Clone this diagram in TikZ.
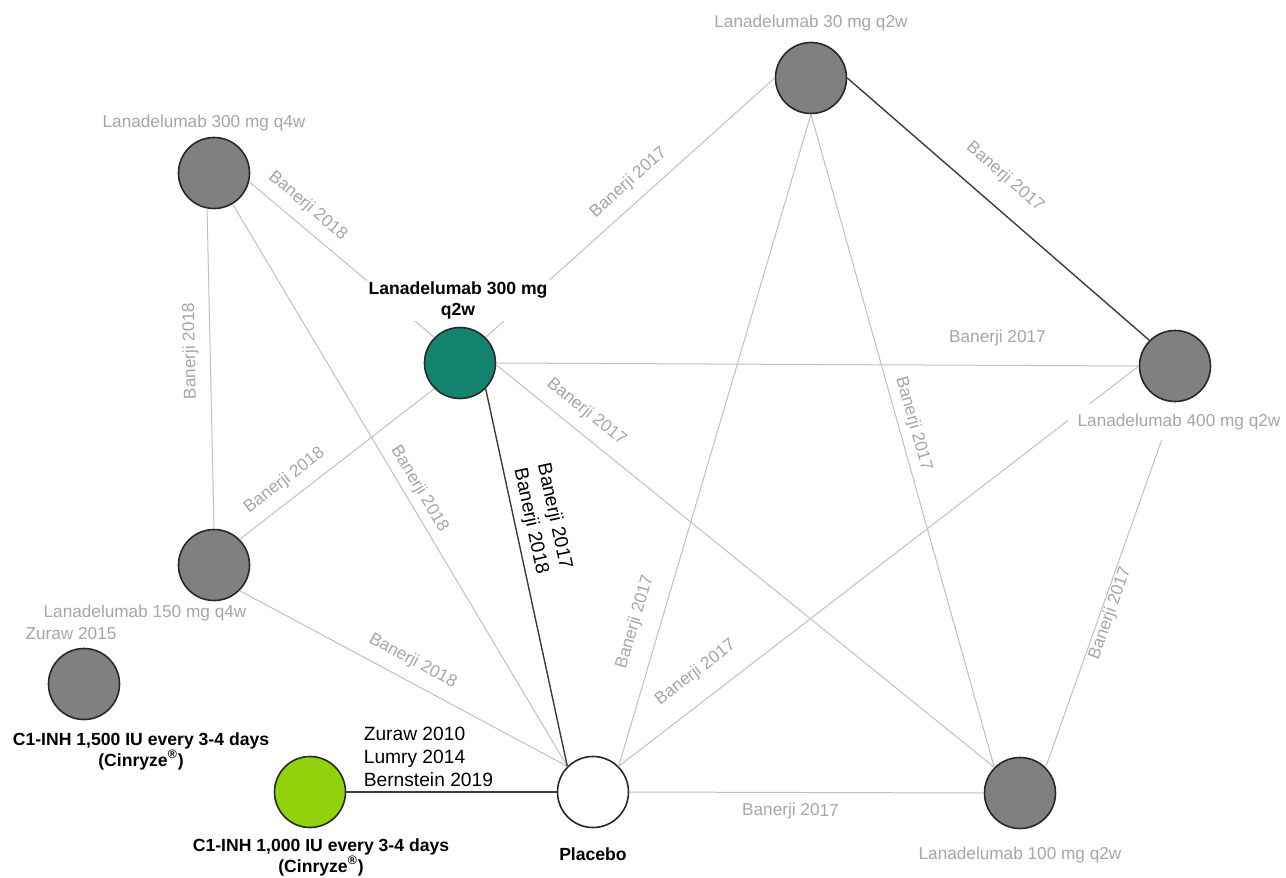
\documentclass[tikz,border=0pt]{standalone}
\usepackage{fontspec}
\setmainfont{Liberation Sans}
\usetikzlibrary{positioning}
\definecolor{trtgray}{RGB}{128,128,128}
\definecolor{rimgray}{RGB}{40,40,40}
\definecolor{trtteal}{RGB}{19,131,112}
\definecolor{trtlime}{RGB}{146,210,12}
\definecolor{pairgray}{RGB}{192,192,192}
\definecolor{pairdark}{RGB}{60,60,60}
\definecolor{studygray}{RGB}{165,165,172}
\tikzset{
  x=0.5pt, y=-0.5pt,
  trt/.style={circle, draw=rimgray, line width=0.8pt, minimum size=35.5pt, inner sep=0pt, fill=trtgray},
  pair/.style={draw=pairgray, line width=0.5pt},
  pairk/.style={draw=pairdark, line width=0.7pt},
  study/.style={sloped, inner sep=0pt, text=studygray, font=\fontsize{8.6}{10}\selectfont},
  studyk/.style={sloped, inner sep=0pt, text=black, align=center, font=\fontsize{9.6}{12}\selectfont},
  trials/.style={inner sep=0pt, text=black, align=left, font=\fontsize{9.6}{11.5}\selectfont},
  tname/.style={inner sep=0pt, text=studygray, font=\fontsize{8.6}{10}\selectfont},
  tbold/.style={inner sep=1pt, text=black, align=center, font=\fontsize{8.8}{10.5}\selectfont\bfseries}
  }

\begin{document}
\begin{tikzpicture}
    \useasboundingbox (0,0) rectangle (1286,878);

    \node [trt] at (811,78) (l30q2w) {};
    \node [trt] at (214,173) (l300q4w) {};
    \node [trt, fill=trtteal] at (460,363) (l300q2w) {};
    \node [trt] at (1175,366) (l400q2w) {};
    \node [trt] at (214,565) (l150q4w) {};
    \node [trt] at (84,684) (c1500) {};
    \node [trt, fill=trtlime] at (310,792) (c1000) {};
    \node [trt, fill=white] at (593,792) (pbo) {};
    \node [trt] at (1020,793) (l100q2w) {};

    \draw (l300q4w.-14) edge[pair] node[study, pos=.25, above=5.3pt] {Banerji 2018} (l300q2w.135);
    \draw (l150q4w.90) edge[pair] node[study, allow upside down, pos=.556, above=5.6pt] {Banerji 2018} (l300q4w.-101);
    \draw (l300q4w.-59) edge[pair] node[study, pos=.52, above=3.1pt] {Banerji 2018} (pbo.135);
    \draw (l150q4w.45) edge[pair] node[study, pos=.29, above=5.25pt] {Banerji 2018} (l300q2w.-135);
    \draw (l150q4w.-45) edge[pair] node[study, pos=.5, above=5.6pt] {Banerji 2018} (pbo.135);
    \draw (l300q2w.-45) edge[pairk] node[studyk, pos=.36, above=3.1pt] {Banerji 2017\\Banerji 2018} (pbo.135);
    \draw (l300q2w.45) edge[pair] node[study, pos=.54, above=5.65pt] {Banerji 2017} (l30q2w.180);
    \draw (l300q2w.0) edge[pair] node[study, pos=.78, above=9.4pt] {Banerji 2017} (l400q2w.180);
    \draw (l300q2w.-3) edge[pair] node[study, pos=.156, above=5.75pt] {Banerji 2017} (l100q2w.135);
    \draw (l30q2w.0) edge[pairk] node[study, pos=.46, above=10pt] {Banerji 2017} (l400q2w.135);
    \draw (l30q2w.-90) edge[pair] node[study, pos=.79, above=8.25pt] {Banerji 2017} (pbo.45);
    \draw (l30q2w.-90) edge[pair] node[study, pos=.48, above=3.25pt] {Banerji 2017} (l100q2w.135);
    \draw (l400q2w.180) edge[pair] node[study, pos=.82, above=9.4pt] {Banerji 2017} (pbo.45);
    \draw (l400q2w.-90) edge[pair] node[study, pos=.57, below=0.5pt] {Banerji 2017} (l100q2w.45);
    \draw (pbo.0) edge[pair] node[study, pos=.455, below=5.25pt] {Banerji 2017} (l100q2w.180);
    \draw (c1000.0) edge[pairk] node[trials, pos=.08, anchor=south west, yshift=2.5pt] {Zuraw 2010\\Lumry 2014\\Bernstein 2019} (pbo.180);

    \node [tname, above=5.2pt of l30q2w] (t30q2w) {Lanadelumab 30 mg q2w};
    \node [tname, above=2.5pt of l300q4w, xshift=-5pt] (t300q4w) {Lanadelumab 300 mg q4w};
    \node [tbold, fill=white, above=2.5pt of l300q2w, xshift=-1pt] (t300q2w) {Lanadelumab 300 mg\\q2w};
    \node [tname, fill=white, inner sep=5pt, below=0.5pt of l400q2w, xshift=2pt] (t400q2w) {Lanadelumab 400 mg q2w};
    \node [tname, below=1.75pt of l150q4w, xshift=-34.5pt] (t150q4w) {Lanadelumab 150 mg q4w};
    \node [tname, above=3.75pt of c1500, xshift=-6.5pt] (tzuraw) {Zuraw 2015};
    \node [tbold, below=5pt of c1500, xshift=28.5pt] (tc1500) {C1-INH 1,500 IU every 3-4 days\\(Cinryze\textsuperscript{®})};
    \node [tbold, below=4pt of c1000, xshift=5.5pt] (tc1000) {C1-INH 1,000 IU every 3-4 days\\(Cinryze\textsuperscript{®})};
    \node [tbold, below=8.5pt of pbo] (tpbo) {Placebo};
    \node [tname, below=8.5pt of l100q2w] (t100q2w) {Lanadelumab 100 mg q2w};

\end{tikzpicture}
\end{document}
